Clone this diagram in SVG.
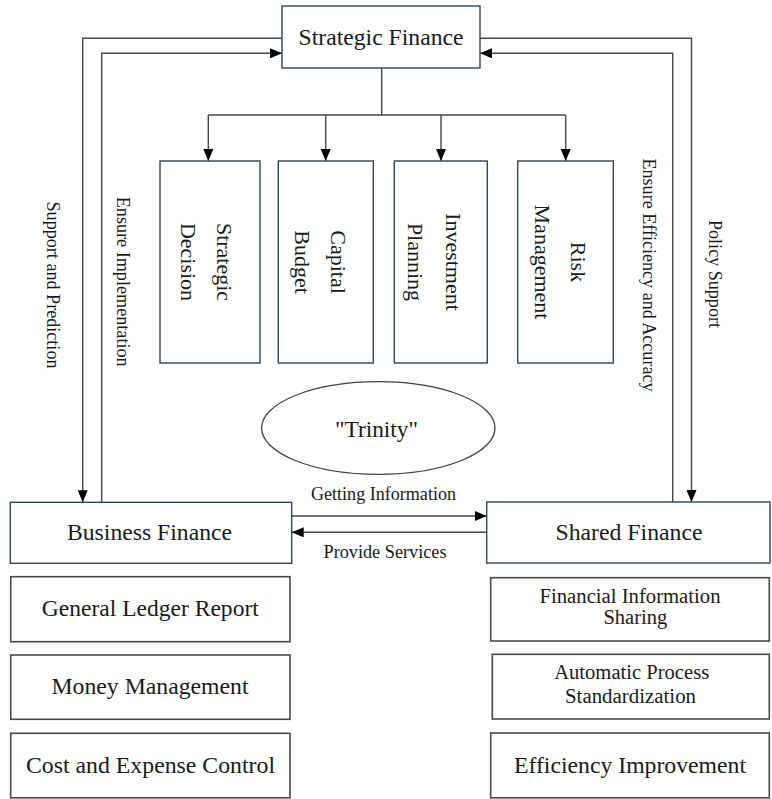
<svg xmlns="http://www.w3.org/2000/svg" width="772" height="799" viewBox="0 0 772 799" font-family="'Liberation Serif', 'Times New Roman', 'DejaVu Serif', serif">
  <style>
    .bg { fill: #ffffff; }
    .box { fill: #ffffff; stroke: #34425f; stroke-width: 1.4; }
    .sub { fill: #ffffff; stroke: #4a4a4a; stroke-width: 1.6; }
    .oval { fill: #ffffff; stroke: #404040; stroke-width: 1.3; }
    .link { fill: none; stroke: #474747; stroke-width: 1.4; }
    text { fill: #1a1a1a; text-anchor: middle; }
    .t24 { font-size: 24px; }
    .t22 { font-size: 22px; }
    .t20 { font-size: 20.5px; }
    .t18 { font-size: 18px; }
    .vert { dominant-baseline: central; }
  </style>
  <defs>
    <marker id="arrow" markerUnits="userSpaceOnUse" markerWidth="12" markerHeight="10" refX="12" refY="5" orient="auto">
      <path d="M0,0 L12,5 L0,10 z" fill="#000000"/>
    </marker>
  </defs>

  <rect class="bg" x="0" y="0" width="772" height="799"/>

  <!-- connectors -->
  <g id="connectors">
    <!-- trunk and branches to the four strategic areas -->
    <path class="link" d="M381.7,68 V115 M208.3,115 H565.7"/>
    <path class="link" d="M208.3,115 V161" marker-end="url(#arrow)"/>
    <path class="link" d="M325.7,115 V161" marker-end="url(#arrow)"/>
    <path class="link" d="M441,115 V161" marker-end="url(#arrow)"/>
    <path class="link" d="M565.7,115 V161" marker-end="url(#arrow)"/>
    <!-- left loop: support and prediction / ensure implementation -->
    <path class="link" d="M282,38.3 H82.7 V502.3" marker-end="url(#arrow)"/>
    <path class="link" d="M101.7,502.3 V53.3 H282" marker-end="url(#arrow)"/>
    <!-- right loop: policy support / ensure efficiency and accuracy -->
    <path class="link" d="M480,38.3 H691.5 V502" marker-end="url(#arrow)"/>
    <path class="link" d="M672.7,502 V53.3 H480" marker-end="url(#arrow)"/>
    <!-- exchange between business and shared finance -->
    <path class="link" d="M291.7,516 H486.7" marker-end="url(#arrow)"/>
    <path class="link" d="M486.7,532.3 H291.7" marker-end="url(#arrow)"/>

    <text class="t18 vert" x="53.3" y="285" transform="rotate(90 53.3 285)" textLength="167" lengthAdjust="spacingAndGlyphs">Support and Prediction</text>
    <text class="t18 vert" x="123.3" y="281.7" transform="rotate(90 123.3 281.7)" textLength="170" lengthAdjust="spacingAndGlyphs">Ensure Implementation</text>
    <text class="t18 vert" x="649.3" y="275" transform="rotate(90 649.3 275)" textLength="233" lengthAdjust="spacingAndGlyphs">Ensure Efficiency and Accuracy</text>
    <text class="t18 vert" x="715" y="274" transform="rotate(90 715 274)" textLength="108" lengthAdjust="spacingAndGlyphs">Policy Support</text>
    <text class="t18" x="383.5" y="500" textLength="145" lengthAdjust="spacingAndGlyphs">Getting Information</text>
    <text class="t18" x="385" y="558" textLength="123" lengthAdjust="spacingAndGlyphs">Provide Services</text>
  </g>

  <g id="strategic-finance">
    <rect class="box" x="282" y="6" width="198" height="62"/>
    <text class="t24" x="381" y="45" textLength="165" lengthAdjust="spacingAndGlyphs">Strategic Finance</text>
  </g>

  <g id="strategic-decision">
    <rect class="box" x="160" y="161" width="100" height="202"/>
    <text class="t22 vert" x="224" y="262" transform="rotate(90 224 262)">Strategic</text>
    <text class="t22 vert" x="188" y="262" transform="rotate(90 188 262)">Decision</text>
  </g>

  <g id="capital-budget">
    <rect class="box" x="278.3" y="161" width="95" height="202"/>
    <text class="t22 vert" x="338" y="262" transform="rotate(90 338 262)">Capital</text>
    <text class="t22 vert" x="302" y="262" transform="rotate(90 302 262)">Budget</text>
  </g>

  <g id="investment-planning">
    <rect class="box" x="394.3" y="161" width="93" height="202"/>
    <text class="t22 vert" x="453" y="262" transform="rotate(90 453 262)">Investment</text>
    <text class="t22 vert" x="415" y="262" transform="rotate(90 415 262)">Planning</text>
  </g>

  <g id="risk-management">
    <rect class="box" x="517.7" y="161" width="95.6" height="202"/>
    <text class="t22 vert" x="578" y="262" transform="rotate(90 578 262)">Risk</text>
    <text class="t22 vert" x="542" y="262" transform="rotate(90 542 262)">Management</text>
  </g>

  <g id="trinity">
    <ellipse class="oval" cx="378.3" cy="428" rx="116.7" ry="46.3"/>
    <text class="t24" x="376.5" y="436.7" textLength="83" lengthAdjust="spacingAndGlyphs">"Trinity"</text>
  </g>

  <g id="business-finance">
    <rect class="box" x="10.3" y="502.3" width="281.4" height="61"/>
    <text class="t24" x="149.5" y="540" textLength="165" lengthAdjust="spacingAndGlyphs">Business Finance</text>
  </g>

  <g id="shared-finance">
    <rect class="box" x="486.7" y="502" width="283.3" height="61"/>
    <text class="t24" x="629" y="540" textLength="147" lengthAdjust="spacingAndGlyphs">Shared Finance</text>
  </g>

  <g id="general-ledger-report">
    <rect class="sub" x="10.7" y="576.7" width="279.3" height="65"/>
    <text class="t24" x="150.3" y="616" textLength="217" lengthAdjust="spacingAndGlyphs">General Ledger Report</text>
  </g>

  <g id="money-management">
    <rect class="sub" x="10.7" y="655" width="279.3" height="64.3"/>
    <text class="t24" x="150" y="694" textLength="197" lengthAdjust="spacingAndGlyphs">Money Management</text>
  </g>

  <g id="cost-expense-control">
    <rect class="sub" x="10.7" y="733.3" width="279.3" height="64.5"/>
    <text class="t24" x="150.5" y="772.7" textLength="249" lengthAdjust="spacingAndGlyphs">Cost and Expense Control</text>
  </g>

  <g id="financial-information-sharing">
    <rect class="sub" x="490.7" y="577.7" width="278.6" height="63.3"/>
    <text class="t20" x="630" y="603.3" textLength="181" lengthAdjust="spacingAndGlyphs">Financial Information</text>
    <text class="t20" x="635.3" y="624">Sharing</text>
  </g>

  <g id="automatic-process-standardization">
    <rect class="sub" x="492.3" y="654.3" width="277" height="64.7"/>
    <text class="t20" x="631.7" y="679.3" textLength="155" lengthAdjust="spacingAndGlyphs">Automatic Process</text>
    <text class="t20" x="630.5" y="703.3" textLength="131" lengthAdjust="spacingAndGlyphs">Standardization</text>
  </g>

  <g id="efficiency-improvement">
    <rect class="sub" x="490.7" y="733" width="278.6" height="64.8"/>
    <text class="t24" x="630" y="772.7" textLength="232" lengthAdjust="spacingAndGlyphs">Efficiency Improvement</text>
  </g>
</svg>
